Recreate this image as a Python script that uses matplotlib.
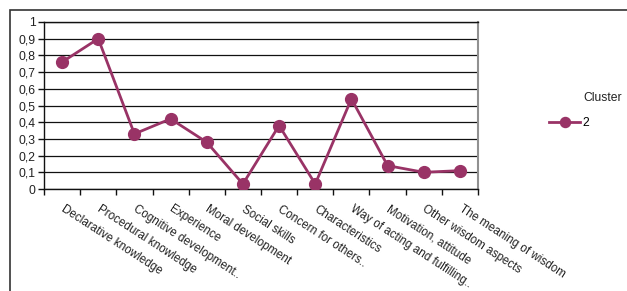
import matplotlib
matplotlib.use("Agg")
import matplotlib.pyplot as plt
from matplotlib.patches import Rectangle
import numpy as np

plt.rcParams['font.family'] = ['Liberation Sans', 'DejaVu Sans']

categories = ["Declarative knowledge", "Procedural knowledge", "Cognitive development..",
              "Experience", "Moral development", "Social skills", "Concern for others..",
              "Characteristics", "Way of acting and fulfilling..", "Motivation, attitude",
              "Other wisdom aspects", "The meaning of wisdom"]
values = [0.76, 0.90, 0.33, 0.42, 0.28, 0.03, 0.38, 0.03, 0.54, 0.14, 0.10, 0.11]
yticks = [0, 0.1, 0.2, 0.3, 0.4, 0.5, 0.6, 0.7, 0.8, 0.9, 1]
ytick_labels = ["0", "0,1", "0,2", "0,3", "0,4", "0,5", "0,6", "0,7", "0,8", "0,9", "1"]
series_name = "2"
legend_title = "Cluster"

W, H = 627, 291
fig = plt.figure(figsize=(W/100, H/100), dpi=100)
ax = fig.add_axes([44/W, 1-189/H, (478-44)/W, (189-22)/H])

# outer chart frame
fig.add_artist(Rectangle((10/W, -0.1), 1.2, 1 - 10/H + 0.1, transform=fig.transFigure,
                         fill=False, edgecolor='#333333', linewidth=1.2))

color = '#993366'
x = np.arange(len(categories))
line, = ax.plot(x, values, color=color, linewidth=2, marker='o', markersize=8.5,
                markeredgecolor=color, markerfacecolor=color, label=series_name, zorder=3)

ax.set_xlim(-0.5, len(categories) - 0.5)
ax.set_ylim(0, 1)
ax.set_yticks(yticks)
ax.set_yticklabels(ytick_labels, fontsize=8.7, color='#222222')
ax.yaxis.grid(True, color='#111111', linewidth=0.9)
ax.set_axisbelow(True)

ax.set_xticks(np.arange(len(categories) + 1) - 0.5)
ax.set_xticklabels([])
ax.tick_params(axis='x', length=4, width=1, color='#111111', direction='out')
ax.tick_params(axis='y', length=4, width=1, color='#111111', direction='out', pad=2)

for i, c in enumerate(categories):
    ax.text(i, -0.115, c, rotation=-33, rotation_mode='anchor', ha='left', va='center',
            fontsize=8.4, color='#222222', transform=ax.transData, clip_on=False)

for s in ['left', 'bottom', 'top']:
    ax.spines[s].set_color('#111111')
    ax.spines[s].set_linewidth(1)
ax.spines['right'].set_color('#909090')
ax.spines['right'].set_linewidth(1.5)

fig.text(583/W, 1-98/H, legend_title, fontsize=8.7, va='center', ha='left', color='#222222')
ax.legend(handles=[line], loc='center left', bbox_to_anchor=(549/W, 1-123/H),
          bbox_transform=fig.transFigure, frameon=False, handlelength=2.6,
          handletextpad=0.15, borderpad=0, borderaxespad=0, fontsize=8.7, markerscale=0.85)

fig.savefig('out.png', dpi=100)
